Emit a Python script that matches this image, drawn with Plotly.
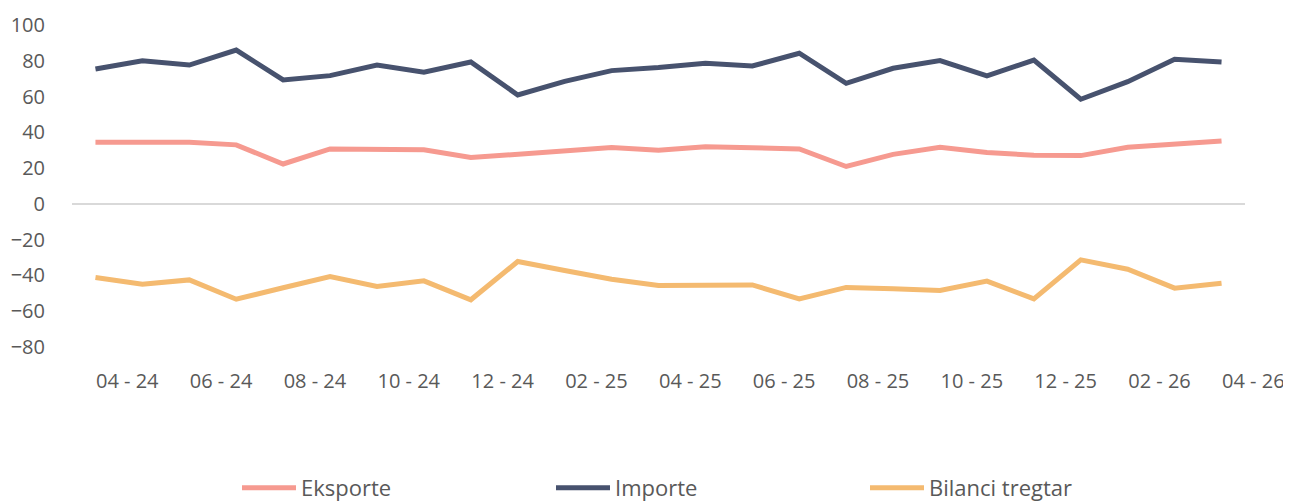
import plotly.graph_objects as go

months = ["04 - 24", "05 - 24", "06 - 24", "07 - 24", "08 - 24", "09 - 24", "10 - 24",
          "11 - 24", "12 - 24", "01 - 25", "02 - 25", "03 - 25", "04 - 25", "05 - 25",
          "06 - 25", "07 - 25", "08 - 25", "09 - 25", "10 - 25", "11 - 25", "12 - 25",
          "01 - 26", "02 - 26", "03 - 26", "04 - 26"]

eksporte = [34.5, 34.5, 34.4, 33.0, 22.3, 30.7, 30.8, 30.2, 25.9, 27.9, 29.8, 31.5, 30.0,
            32.0, 31.4, 30.7, 20.9, 27.7, 31.7, 28.7, 27.2, 27.0, 31.7, 33.3, 35.2]
importe = [75.4, 80.0, 77.6, 86.0, 69.3, 71.7, 77.6, 73.6, 79.3, 60.9, 68.5, 74.5, 76.2,
           78.6, 77.1, 84.2, 67.4, 75.8, 80.1, 71.5, 80.4, 58.5, 68.3, 80.8, 79.3]
bilanci = [-41.1, -44.9, -42.5, -53.3, -46.9, -40.6, -46.2, -43.0, -53.6, -32.2, -37.2, -42.1, -45.6,
           -45.8, -45.3, -53.1, -46.7, -47.5, -48.4, -43.2, -53.1, -31.3, -36.5, -47.1, -44.3]

series_names = ["Eksporte", "Importe", "Bilanci tregtar"]
series_colors = ["#F69A90", "#47526E", "#F4BA70"]
tick_labels = months[::2]
y_ticks = [-80, -60, -40, -20, 0, 20, 40, 60, 80, 100]

fig = go.Figure()
for name, vals, col in zip(series_names, [eksporte, importe, bilanci], series_colors):
    fig.add_trace(go.Scatter(x=months, y=vals, name=name, mode="lines",
                             line=dict(color=col, width=5), hoverinfo="x+y"))

W, H = 1283, 493
font_family = "Open Sans, Noto Sans, sans-serif"
fig.update_layout(
    width=W, height=H,
    margin=dict(l=64, r=46, t=17, b=154, autoexpand=False),
    paper_bgcolor="white", plot_bgcolor="white",
    font=dict(family=font_family, color="#595959", size=20),
    showlegend=True,
    legend=dict(orientation="h", xref="container", yref="container",
                x=229 / W, xanchor="left", y=1 - 480 / H, yanchor="middle",
                font=dict(size=22, color="#595959"), itemwidth=54,
                entrywidth=245, entrywidthmode="pixels",
                bgcolor="rgba(0,0,0,0)", traceorder="normal"),
    xaxis=dict(type="category", categoryorder="array", categoryarray=months,
               range=[-0.5, len(months) - 0.5],
               tickmode="array", tickvals=tick_labels, ticktext=tick_labels,
               ticklabelposition="outside right", ticklabelstandoff=16,
               showgrid=False, showline=False, zeroline=False,
               ticks="outside", ticklen=22, tickcolor="rgba(0,0,0,0)",
               tickfont=dict(size=20, color="#595959")),
    yaxis=dict(range=[-80, 100], tickmode="array", tickvals=y_ticks,
               showgrid=False, showline=False,
               zeroline=True, zerolinecolor="#D9D9D9", zerolinewidth=2,
               ticks="outside", ticklen=22, tickcolor="rgba(0,0,0,0)",
               tickfont=dict(size=20, color="#595959")),
)

fig.write_html("out.html")
